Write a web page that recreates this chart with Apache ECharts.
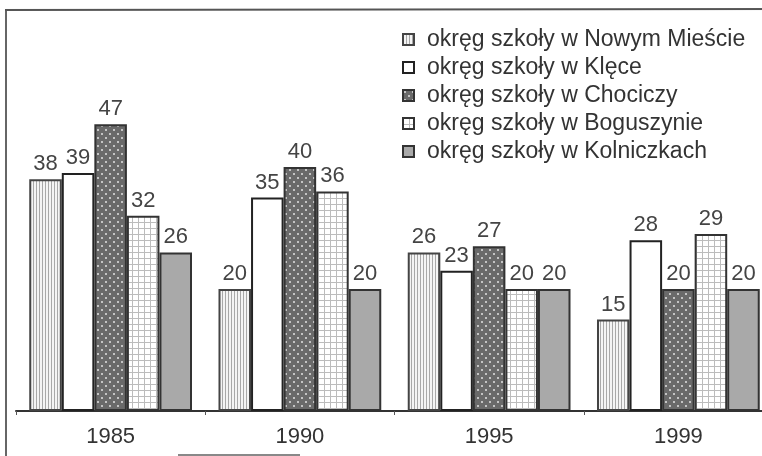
<!DOCTYPE html>
<html>
<head>
<meta charset="utf-8">
<script src="https://cdn.jsdelivr.net/npm/echarts@6/dist/echarts.min.js"></script>
<style>
html,body{margin:0;padding:0;background:#fff;overflow:hidden;width:762px;height:456px;}
#chart{width:780px;height:456px;}
</style>
</head>
<body>
<div id="chart"></div>
<script>
const categories = ['1985', '1990', '1995', '1999'];
const seriesNames = [
  'okręg szkoły w Nowym Mieście',
  'okręg szkoły w Klęce',
  'okręg szkoły w Chociczy',
  'okręg szkoły w Boguszynie',
  'okręg szkoły w Kolniczkach'
];
const nowyMiasto = [38, 20, 26, 15];
const klecko = [39, 35, 23, 28];
const chocicza = [47, 40, 27, 20];
const boguszyn = [32, 36, 20, 29];
const kolniczki = [26, 20, 20, 20];

function makePattern(kind) {
  const c = document.createElement('canvas');
  const ctx = c.getContext('2d');
  if (kind === 'vstripes') {
    c.width = 3; c.height = 3;
    ctx.fillStyle = '#f4f4f4'; ctx.fillRect(0, 0, 3, 3);
    ctx.fillStyle = '#a8a8a8'; ctx.fillRect(0, 0, 1, 3);
  } else if (kind === 'dots') {
    c.width = 8; c.height = 8;
    ctx.fillStyle = '#6a6a6a'; ctx.fillRect(0, 0, 8, 8);
    ctx.fillStyle = '#c4c4c4';
    ctx.fillRect(1, 1, 2, 2);
    ctx.fillRect(5, 5, 2, 2);
  } else if (kind === 'grid') {
    c.width = 6; c.height = 6;
    ctx.fillStyle = '#ffffff'; ctx.fillRect(0, 0, 6, 6);
    ctx.fillStyle = '#bcbcbc';
    ctx.fillRect(0, 0, 6, 1);
    ctx.fillRect(0, 0, 1, 6);
  }
  return { image: c, repeat: 'repeat' };
}

const styles = [
  { color: makePattern('vstripes'), borderColor: '#444', borderWidth: 2 },
  { color: '#ffffff', borderColor: '#222', borderWidth: 2 },
  { color: makePattern('dots'), borderColor: '#333', borderWidth: 2 },
  { color: makePattern('grid'), borderColor: '#333', borderWidth: 2 },
  { color: '#a9a9a9', borderColor: '#333', borderWidth: 2 }
];
const dataSets = [nowyMiasto, klecko, chocicza, boguszyn, kolniczki];

const chart = echarts.init(document.getElementById('chart'), null, { renderer: 'canvas' });
const FONT = "'Liberation Sans', Arial, sans-serif";

chart.setOption({
  animation: false,
  backgroundColor: '#ffffff',
  textStyle: { fontFamily: FONT },
  legend: {
    orient: 'vertical',
    left: 397,
    top: 23,
    itemWidth: 11,
    itemHeight: 11,
    itemGap: 5,
    icon: 'rect',
    data: seriesNames,
    textStyle: { fontFamily: FONT, fontSize: 23, color: '#333', padding: [0, 0, 0, 8] }
  },
  grid: { left: 16, top: 45, width: 757, height: 366, containLabel: false },
  xAxis: {
    type: 'category',
    data: categories,
    axisLine: { lineStyle: { color: '#333', width: 2 } },
    axisTick: { show: true, length: 4, lineStyle: { color: '#555' } },
    axisLabel: { fontFamily: FONT, fontSize: 22, color: '#333', margin: 15 }
  },
  yAxis: {
    type: 'value',
    min: 0,
    max: 60,
    show: false,
    splitLine: { show: false }
  },
  series: seriesNames.map((name, i) => ({
    name: name,
    type: 'bar',
    data: dataSets[i],
    barGap: '0%',
    barCategoryGap: '14%',
    itemStyle: styles[i],
    label: {
      show: true,
      position: 'top',
      distance: 4,
      fontFamily: FONT,
      fontSize: 22,
      color: '#444'
    }
  })),
  graphic: [
    { type: 'line', shape: { x1: 6, y1: 10, x2: 6, y2: 456 }, style: { stroke: '#666', lineWidth: 2 } },
    { type: 'line', shape: { x1: 5, y1: 10, x2: 780, y2: 9 }, style: { stroke: '#555', lineWidth: 2 } },
    { type: 'line', shape: { x1: 178, y1: 455, x2: 300, y2: 455 }, style: { stroke: '#888', lineWidth: 2 } }
  ]
});
</script>
</body>
</html>
